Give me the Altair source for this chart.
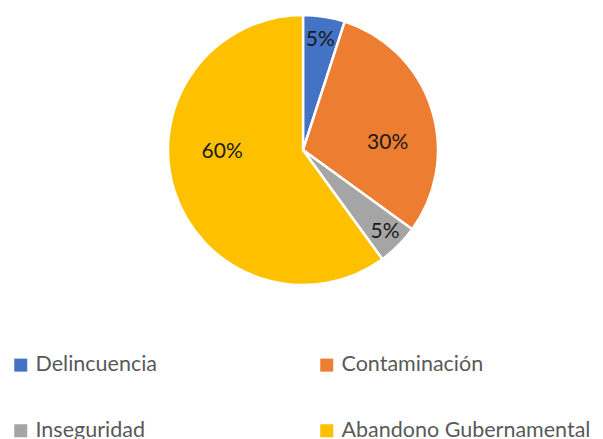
import altair as alt
import pandas as pd

categories = ["Delincuencia", "Contaminación", "Inseguridad", "Abandono Gubernamental"]
values = [5, 30, 5, 60]
labels = ["5%", "30%", "5%", "60%"]
colors = ["#4472C4", "#ED7D31", "#A5A5A5", "#FFC000"]

df = pd.DataFrame({"cat": categories, "val": values, "lab": labels, "order": list(range(len(categories)))})

CX, CY, R = 295, 142, 135
FONT = "Lato"

color = alt.Color("cat:N", scale=alt.Scale(domain=categories, range=colors), sort=categories,
                  legend=alt.Legend(title=None, orient="none", legendX=2, legendY=346, columns=2,
                                    direction="horizontal", padding=0,
                                    columnPadding=159, rowPadding=43, symbolType="square",
                                    symbolSize=169, symbolStrokeWidth=0, labelFontSize=21.5,
                                    labelColor="#595959", labelFont=FONT, symbolOffset=0,
                                    labelOffset=4, labelLimit=400))

base = alt.Chart(df).encode(
    theta=alt.Theta("val:Q", stack=True),
    order=alt.Order("order:Q"),
)

pie = base.mark_arc(radius=R, stroke="white", strokeWidth=2.5).encode(
    color=color, x=alt.value(CX), y=alt.value(CY)
)

# label placement (radius, dy) per category, mimicking best-fit placement
placement = {
    "Delincuencia": (111, 0),
    "Contaminación": (89, 21),
    "Inseguridad": (116, 0),
    "Abandono Gubernamental": (85, -24),
}

text_layers = []
for cat in categories:
    r, dy = placement[cat]
    text_layers.append(
        base.mark_text(radius=r, dy=dy, fontSize=21, font=FONT, color="#1a1a1a").encode(
            text="lab:N", x=alt.value(CX), y=alt.value(CY),
            opacity=alt.condition(alt.datum.cat == cat, alt.value(1), alt.value(0)),
        )
    )

chart = alt.layer(pie, *text_layers).properties(
    width=587, height=440, autosize=alt.AutoSizeParams(type="none"), padding=0
).configure_view(stroke=None)

chart.save("out.html", embed_options={"renderer": "svg", "actions": False})
